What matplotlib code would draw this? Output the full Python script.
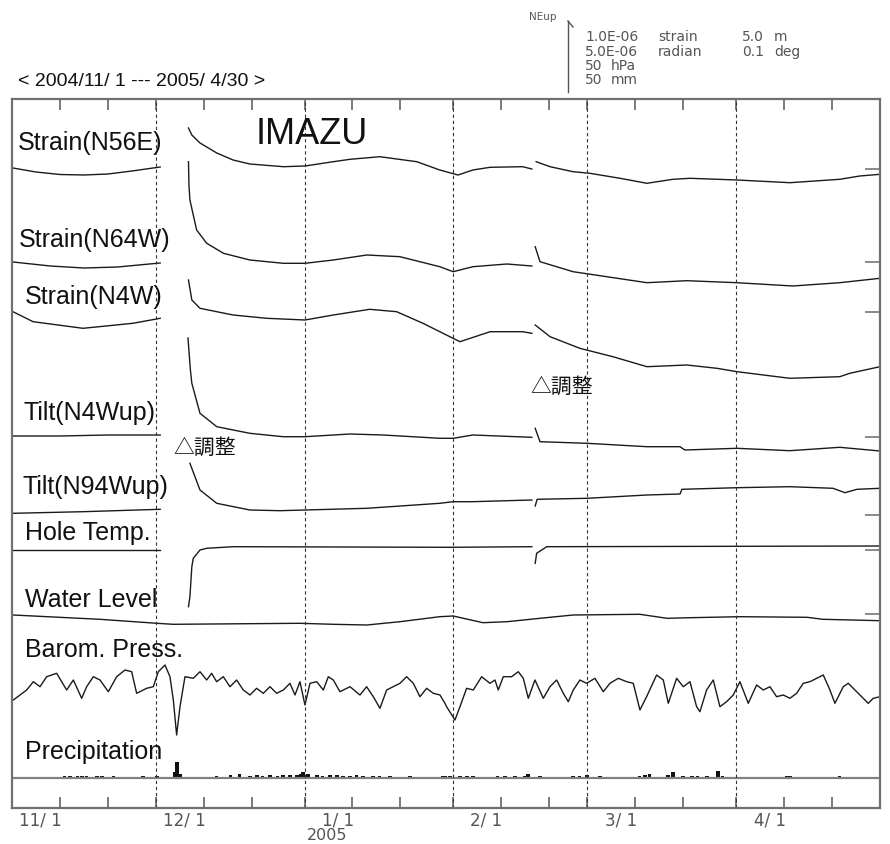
import matplotlib.pyplot as plt
from matplotlib.lines import Line2D

# x = days since 2004/11/1, y = level of each trace on the stacked sheet (grows downward)
month_starts = [0, 30, 61, 92, 120, 151]
month_labels = ['11/ 1', '12/ 1', '1/ 1', '2/ 1', '3/ 1', '4/ 1']
minor_days = [10, 20, 40, 50, 71, 81, 102, 112, 130, 140, 161, 171]
ref_levels = [169, 262, 312, 437, 515, 550, 614]

# Strain(N56E)
n56e_d1 = [0.2, 5, 10, 15, 20, 25, 30.9]
n56e_v1 = [168, 172, 174.5, 175, 174, 171, 167]
n56e_d2 = [36.8, 37.5, 39.2, 42.7, 46.1, 49.6, 56.6, 61.1, 67, 70.5, 76.7, 84.4, 89.2, 93, 96.1, 99.7, 106.5, 108.4]
n56e_v2 = [128, 135, 143, 153, 160, 164, 166.7, 166, 161.7, 159.3, 156.7, 161.7, 170, 175, 170, 167.3, 166.7, 169]
n56e_d3 = [109.3, 112.2, 117, 120.5, 126.8, 132.4, 137.8, 141.4, 151.2, 162.2, 172.6, 176.8, 181]
n56e_v3 = [161.7, 166.7, 171.7, 173.3, 178.3, 183.3, 179.3, 178.3, 180, 182.7, 179.3, 176, 174.3]

# Strain(N64W)
n64w_d1 = [0.2, 8, 15, 22, 30.9]
n64w_v1 = [262, 266, 268, 267, 263]
n64w_d2 = [36.8, 36.9, 37.1, 38.5, 40.6, 44.1, 49.6, 56.6, 61.1, 67, 74, 80.9, 89.2, 92, 96.1, 103.2, 108.4]
n64w_v2 = [161.7, 185, 200, 230, 243.3, 253.3, 260, 263.3, 263.3, 260, 255, 256.7, 266.7, 271.7, 266.7, 264, 266]
n64w_d3 = [109.1, 110.1, 117, 124, 132.4, 140.7, 151.2, 162.8, 172.6, 181]
n64w_v3 = [246.7, 261.7, 271.7, 276.7, 282.7, 280.7, 282.7, 286, 282.7, 278.3]

# Strain(N4W)
n4w_d1 = [0.2, 4.4, 14.8, 25.2, 30.9]
n4w_v1 = [311.7, 321.7, 328.3, 323.3, 318.3]
n4w_d2 = [36.8, 37.5, 39.2, 46.1, 53.1, 61.1, 67, 74.6, 80.2, 85.7, 91.3, 93.4, 99.7, 106.5, 108.4]
n4w_v2 = [280, 300, 308.3, 315, 318.3, 320, 315, 309.3, 311.7, 323.3, 336.7, 341.7, 331.7, 331.7, 333.3]
n4w_d3 = [109.1, 112.2, 118.4, 125.3, 132.4, 140.7, 147, 151.2, 162.2, 172.6, 174.7, 181]
n4w_v3 = [325, 336.7, 348.3, 356.7, 366.7, 365, 368.3, 371.7, 378.3, 376.7, 373.3, 366.7]

# Tilt(N4Wup)
t4_d1 = [0.2, 10, 20, 30.9]
t4_v1 = [436, 436, 435, 435]
t4_d2 = [36.7, 37.2, 37.5, 39.2, 42.7, 49.6, 56.5, 61.1, 70.5, 77.4, 89.2, 92, 96.1, 108.4]
t4_v2 = [338, 370, 383.3, 413.3, 426.7, 433.3, 436.7, 436.7, 434, 435, 438.3, 438.3, 435, 437.3]
t4_d3 = [109.1, 110.1, 119.9, 132.4, 139.3, 140.3, 151.2, 162.2, 172.6, 181]
t4_v3 = [428.3, 441.7, 443.3, 446.7, 446.7, 450, 448.3, 450.7, 447.3, 451]

# Tilt(N94Wup)
t94_d1 = [0.2, 14.8, 30.9]
t94_v1 = [513.3, 511.7, 509.3]
t94_d2 = [37.1, 39.2, 42.7, 49.6, 55.9, 61.1, 74, 89.2, 92, 96.1, 108.4]
t94_v2 = [463.3, 490, 503.3, 510, 510.7, 510, 508.3, 503.3, 501.7, 501.7, 500]
t94_d3 = [109.1, 109.5, 119.9, 132.4, 139.3, 139.7, 151.2, 162.2, 171.2, 173.7, 176.2, 181]
t94_v3 = [506, 499.3, 498.3, 495, 494, 489.3, 487.7, 486.7, 488.3, 492.7, 489.3, 488.3]

# Hole Temp.
temp_d1 = [0.2, 30.9]
temp_v1 = [550, 550]
temp_d2 = [36.8, 37.1, 37.5, 37.8, 39.2, 40.6, 46.1, 91.3, 108.4]
temp_v2 = [606.7, 596.7, 566.7, 558.3, 550, 548.3, 546.7, 547.3, 546.7]
temp_d3 = [109.1, 109.4, 111.5, 181]
temp_v3 = [563.3, 553.3, 546.7, 546]

# Water Level
water_d = [0.2, 18.3, 30.2, 33.6, 60, 67, 74, 80.9, 89.2, 92, 98.2, 103.2, 110.1, 117,
           130.9, 136.6, 141.4, 151.8, 165.8, 169.1, 181]
water_v = [615, 619.3, 623.3, 624.3, 623.3, 624.3, 625, 621.7, 616.7, 616, 622.7, 621.7, 618.3, 615,
           614.3, 618.3, 617.7, 616.7, 617.3, 619.3, 620.7]

# Barom. Press.
baro_d = [0.28, 3.06, 4.45, 5.84, 7.23, 9.31, 11.4, 12.79, 14.53, 15.57, 16.96, 18.35, 20.09, 21.82,
          23.56, 24.95, 25.99, 28.08, 29.47, 30.51, 31.9, 32.94, 33.64, 34.33, 35.03, 36.07, 37.81,
          39.2, 40.59, 41.63, 42.67, 44.06, 45.45, 46.84, 48.23, 49.62, 51.01, 52.4, 53.8, 55.19,
          56.58, 57.96, 59.01, 60.05, 61.09, 62.14, 63.53, 64.92, 65.96, 67, 68.39, 70.48, 72.56,
          73.95, 75.34, 76.73, 78.12, 79.51, 80.9, 82.29, 83.68, 85.07, 86.46, 87.85, 89.24, 90.28,
          90.63, 92.37, 93.41, 94.8, 96.19, 97.93, 99.67, 100.71, 101.4, 102.45, 104.18, 105.57,
          106.62, 107.66, 109.05, 110.79, 112.18, 113.57, 114.96, 116, 117.04, 118.43, 119.82,
          121.56, 123.3, 124.69, 126.42, 128.16, 129.55, 130.94, 132.33, 134.42, 135.81, 136.85,
          138.59, 139.98, 141.37, 142.76, 143.45, 144.84, 146.23, 147.62, 149.01, 150.4, 151.79,
          153.53, 155.27, 156.66, 158.05, 159.44, 160.83, 162.22, 163.61, 165, 166.39, 167.78,
          169.17, 170.56, 171.6, 173.34, 174.38, 175.77, 176.81, 178.55, 179.59, 181]
baro_v = [700, 690, 681.7, 686.7, 676.7, 673.3, 690, 680, 698.3, 686.7, 676.7, 680, 691.7, 676.7,
          670, 671.7, 693.3, 688.3, 686.7, 671.7, 665, 676.7, 700, 735, 706.7, 676.7, 678.3,
          671.7, 680, 673.3, 681.7, 676.7, 686.7, 680, 690, 695, 688.3, 693.3, 686.7, 693.3,
          690, 683.3, 695, 681.7, 705, 683.3, 681.7, 690, 676.7, 680, 691.7, 686.7, 695,
          686.7, 696.7, 708.3, 690, 686.7, 683.3, 676.7, 683.3, 696.7, 688.3, 693.3, 695, 703.3,
          706.7, 720, 706.7, 688.3, 690, 676.7, 683.3, 680, 690, 676.7, 676.7, 671.7,
          678.3, 698.3, 680, 698.3, 686.7, 680, 693.3, 701.7, 690, 680, 683.3,
          678.3, 691.7, 683.3, 678.3, 681.7, 683.3, 710, 696.7, 675, 680, 703.3,
          678.3, 686.7, 681.7, 706.7, 711.7, 690, 680, 706.7, 701.7, 695, 681.7,
          703.3, 685, 690, 686.7, 696.7, 695, 698.3, 693.3, 683.3, 681.7, 678.3,
          675, 690, 703.3, 686.7, 683.3, 690, 695, 703.3, 698.3, 696.7]

# Precipitation (bar heights on the same sheet scale)
precip_base = 778
precip_d = [3.3, 11, 12.1, 13.6, 14.6, 15.6, 17.7, 18.8, 21.1, 26.1, 27.3, 28.4, 30.2, 34, 34.4, 35,
            40.7, 42.7, 45.5, 47.5, 49.6, 51.1, 52.3, 53.8, 55.3, 56.5, 58, 59.4, 60.1, 60.7, 61.7,
            63.6, 64.8, 66.3, 67.8, 69, 70.5, 71.9, 73.2, 75.3, 76.7, 78.8, 81.5, 83, 86.5, 89.9,
            90.3, 91.3, 93.4, 94.9, 96.1, 99.7, 101.3, 102.8, 104.9, 107, 107.6, 110.1, 111.5,
            115.9, 117, 118.4, 119.9, 121.6, 122.6, 124.1, 130.9, 132, 133, 136.8, 137.8, 139.9,
            141.8, 143, 144.9, 147.2, 148.2, 153.3, 154.3, 157, 161.6, 162.2, 170.6, 172, 172.6, 176.2]
precip_h = [1.5, 2, 2.5, 2, 2.5, 2, 2, 2.5, 2, 1.5, 2, 1.5, 2, 6, 16, 4,
            1.5, 2, 3, 4, 2, 3, 2.5, 3, 2.5, 3, 3, 3, 4, 6, 4,
            3, 2.5, 3, 3, 2, 2.5, 3, 2, 2.5, 2, 2, 1.5, 2, 1.5, 2,
            2, 2.5, 2.5, 2, 2, 1.5, 2, 2.5, 2, 2.5, 4, 2, 1.5,
            1.5, 2, 2.5, 3, 1.5, 2, 1.5, 2.5, 3, 4, 3, 6, 2,
            2, 2.5, 2.5, 7, 2, 1.5, 1.5, 1.5, 2, 2, 1.5, 1.5, 2, 1.5]

segments = [
    (n56e_d1, n56e_v1), (n56e_d2, n56e_v2), (n56e_d3, n56e_v3),
    (n64w_d1, n64w_v1), (n64w_d2, n64w_v2), (n64w_d3, n64w_v3),
    (n4w_d1, n4w_v1), (n4w_d2, n4w_v2), (n4w_d3, n4w_v3),
    (t4_d1, t4_v1), (t4_d2, t4_v2), (t4_d3, t4_v3),
    (t94_d1, t94_v1), (t94_d2, t94_v2), (t94_d3, t94_v3),
    (temp_d1, temp_v1), (temp_d2, temp_v2), (temp_d3, temp_v3),
    (water_d, water_v), (baro_d, baro_v),
]

trace_labels = ['Strain(N56E)', 'Strain(N64W)', 'Strain(N4W)', 'Tilt(N4Wup)', 'Tilt(N94Wup)',
                'Hole Temp.', 'Water Level', 'Barom. Press.', 'Precipitation']
label_days = [1.25, 1.5, 2.7, 2.3, 2.1, 2.7, 2.7, 2.7, 2.7]
label_levels = [143, 240, 297, 413, 487, 533, 600, 650, 752]

fig = plt.figure(figsize=(8.9, 8.44), dpi=100)
ax = fig.add_axes([12 / 890, 36 / 844, 868 / 890, 709 / 844])
ax.set_xlim(0, 181)
ax.set_ylim(808, 99)

for d, v in segments:
    ax.plot(d, v, color='#1a1a1a', lw=1.0)

ax.bar(precip_d, [-h for h in precip_h], bottom=precip_base, width=0.7, color='#111111')
ax.axhline(precip_base, color='#808080', lw=1.6)

for d in month_starts[1:]:
    ax.axvline(d, color='#333333', lw=0.8, dashes=(3, 2.5))

for sp in ax.spines.values():
    sp.set_color('#707070')
    sp.set_linewidth(1.6)

ax.set_xticks(month_starts + minor_days)
ax.tick_params(axis='x', direction='in', length=8, width=1.1, color='#555555',
               top=True, bottom=True, labelbottom=False)
ax.set_yticks(ref_levels)
ax.tick_params(axis='y', direction='in', length=11, width=1.2, color='#777777',
               left=False, right=True, labelleft=False)

sans = ['Liberation Sans', 'DejaVu Sans']
for lab, d, lv in zip(trace_labels, label_days, label_levels):
    ax.text(d, lv, lab, fontsize=18, family=sans, ha='left', va='center', color='#111111')

ax.text(50.7, 135, 'IMAZU', fontsize=26, family=sans, ha='left', va='center', color='#111111')

cjk = ['Noto Sans CJK JP', 'DejaVu Sans']
ax.text(33.6, 448, '△調整', fontsize=15, family=cjk, ha='left', va='center', color='#111111')
ax.text(108, 387, '△調整', fontsize=15, family=cjk, ha='left', va='center', color='#111111')

xt = ax.get_xaxis_transform()
for d, lab in zip(month_starts, month_labels):
    ax.text(d + 10.3, -0.005, lab, transform=xt, fontsize=12, family='DejaVu Sans',
            ha='right', va='top', color='#555555')
ax.text(65.7, -0.0445, '2005', transform=xt, fontsize=11.5, family='DejaVu Sans',
        ha='center', va='baseline', color='#555555')

fig.text(18 / 890, 1 - 81 / 844, '< 2004/11/ 1 --- 2005/ 4/30 >', fontsize=14, family=sans,
         ha='left', va='center', color='#111111')

# scale legend at top right
fig.text(556 / 890, 1 - 17 / 844, 'NEup', fontsize=7.5, family='DejaVu Sans',
         ha='right', va='center', color='#555555')
fig.add_artist(Line2D([568 / 890, 568 / 890], [1 - 92 / 844, 1 - 21 / 844],
                      transform=fig.transFigure, color='#555555', lw=1.0))
fig.add_artist(Line2D([568 / 890, 573 / 890], [1 - 21 / 844, 1 - 27 / 844],
                      transform=fig.transFigure, color='#555555', lw=1.0))
legend_rows = [('1.0E-06', 'strain', '5.0', 'm'), ('5.0E-06', 'radian', '0.1', 'deg'),
               ('50', 'hPa', '', ''), ('50', 'mm', '', '')]
legend_y = [37, 52, 66, 80]
for (a, b, c, e), yy in zip(legend_rows, legend_y):
    y = 1 - yy / 844
    fig.text(585 / 890, y, a, fontsize=10, family='DejaVu Sans', va='center', color='#555555')
    bx = 658 if len(a) > 2 else 611
    fig.text(bx / 890, y, b, fontsize=10, family='DejaVu Sans', va='center', color='#555555')
    if c:
        fig.text(742 / 890, y, c, fontsize=10, family='DejaVu Sans', va='center', color='#555555')
        fig.text(774 / 890, y, e, fontsize=10, family='DejaVu Sans', va='center', color='#555555')

fig.savefig('out.png', dpi=100)
